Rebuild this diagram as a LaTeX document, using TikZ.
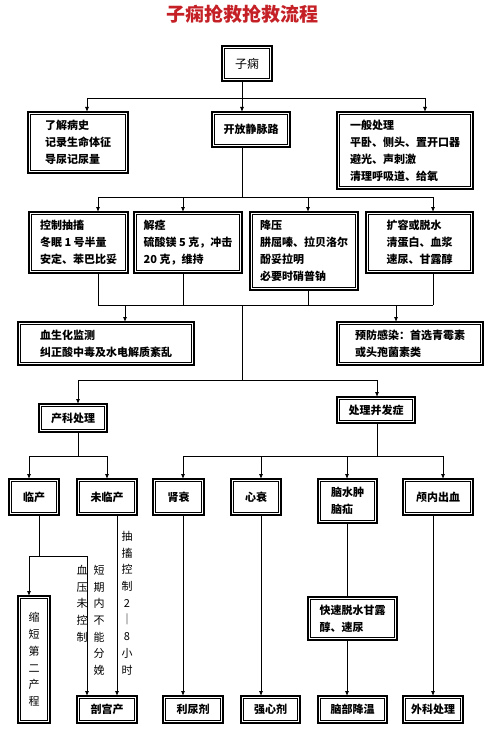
\documentclass[tikz,border=0pt]{standalone}
\usepackage{fontspec}
\setmainfont{Noto Sans CJK SC}
\usetikzlibrary{arrows.meta}
\definecolor{titlered}{RGB}{196,32,38}
\begin{document}
\begin{tikzpicture}[x=1pt,y=-1pt,
  box/.style={draw, line width=1.2pt, anchor=north west,
    inner sep=0pt, outer sep=0pt, align=left, font=\fontsize{11}{17}\selectfont\bfseries,
    path picture={\draw[line width=0.6pt]
      ([shift={(2.6pt,-2.6pt)}]path picture bounding box.north west) rectangle
      ([shift={(-2.6pt,2.6pt)}]path picture bounding box.south east);}},
  thickbox/.style={box, line width=2pt},
  wh/.style 2 args={minimum width=#1, minimum height=#2},
  conn/.style={line width=0.8pt},
  arr/.style={conn, -{Latex[length=5pt,width=4pt]}},
  vtext/.style={anchor=north, align=center, inner sep=0pt, font=\fontsize{11}{16.7}\selectfont}
]
\fill[white] (0,0) rectangle (488,730);
\useasboundingbox (0,0) rectangle (488,730);

% title
\node[font=\fontsize{19}{21}\selectfont\bfseries, text=titlered] (ttl) at (242,14) {子痫抢救抢救流程};

% level 0
\node[box, wh={50}{35}, align=center, font=\fontsize{12}{14}\selectfont] (zi) at (222,46) {子痫};

% level 1
\node[box, wh={100}{61}] (A1) at (28,112) {了解病史\\记录生命体征\\导尿记尿量};
\node[box, wh={78}{35}, align=center] (A2) at (212,112) {开放静脉路};
\node[box, wh={136}{77}] (A3) at (337,112) {一般处理\\平卧、侧头、置开口器\\避光、声刺激\\清理呼吸道、给氧};

% level 2
\node[box, wh={99}{61}] (B1) at (29,212) {控制抽搐\\冬眠 1 号半量\\安定、苯巴比妥};
\node[box, wh={108}{61}] (B2) at (134,212) {解痉\\硫酸镁 5 克，冲击\\20 克，维持};
\node[thickbox, wh={108}{78}] (B3) at (250,212) {降压\\肼屈嗪、拉贝洛尔\\酚妥拉明\\必要时硝普钠};
\node[box, wh={107}{61}] (B4) at (366,212) {扩容或脱水\\清蛋白、血浆\\速尿、甘露醇};

% level 3
\node[box, wh={176}{43}] (C1) at (18,322) {血生化监测\\纠正酸中毒及水电解质紊乱};
\node[box, wh={146}{43}] (C2) at (337,322) {预防感染：首选青霉素\\或头孢菌素类};

% level 4
\node[box, wh={68}{28}, align=center] (D1) at (39,404) {产科处理};
\node[box, wh={78}{26}, align=center] (D2) at (337,397) {处理并发症};

% level 5
\node[box, wh={50}{36}, align=center] (E1) at (9,479) {临产};
\node[box, wh={60}{36}, align=center] (E2) at (77,479) {未临产};
\node[box, wh={51}{36}, align=center] (E3) at (153,479) {肾衰};
\node[box, wh={50}{36}, align=center] (E4) at (231,479) {心衰};
\node[box, wh={59}{44}] (E5) at (318,479) {脑水肿\\脑疝};
\node[box, wh={70}{36}, align=center] (E6) at (403,479) {颅内出血};

% level 6
\node[box, wh={32}{127}, align=center, font=\fontsize{11}{16.7}\selectfont] (F1) at (18,596) {缩\\短\\第\\二\\产\\程};
\node[box, wh={60}{27}, align=center] (F2) at (77,696) {剖宫产};
\node[box, wh={60}{27}, align=center] (F3) at (163,696) {利尿剂};
\node[box, wh={59}{27}, align=center] (F4) at (241,696) {强心剂};
\node[box, wh={89}{43}] (F5) at (308,597) {快速脱水甘露\\醇、速尿};
\node[box, wh={69}{27}, align=center] (F6) at (318,696) {脑部降温};
\node[box, wh={60}{27}, align=center] (F7) at (403,696) {外科处理};

% vertical labels
\node[vtext] (vt1) at (82,565) {血\\压\\未\\控\\制};
\node[vtext] (vt2) at (99,565) {短\\期\\内\\不\\能\\分\\娩};
\node[vtext] (vt3) at (127,531) {抽\\搐\\控\\制\\2\\｜\\8\\小\\时};

% connectors: top
\coordinate (t0) at (242,98);
\coordinate (t0L) at (87,98);
\coordinate (t0R) at (425,98);
\draw[conn] (zi.south -| t0) -- (t0);
\draw[conn] (t0L) -- (t0R);
\draw[arr] (t0L) -- (t0L |- A1.north);
\draw[arr] (t0) -- (t0 |- A2.north);
\draw[arr] (t0R) -- (t0R |- A3.north);

% second fan
\coordinate (t1) at (242,197);
\coordinate (t1a) at (98,197);
\coordinate (t1b) at (183,197);
\coordinate (t1c) at (308,197);
\coordinate (t1d) at (433,197);
\draw[conn] (A2.south -| t1) -- (t1);
\draw[conn] (t1a) -- (t1d);
\draw[arr] (t1a) -- (t1a |- B1.north);
\draw[arr] (t1b) -- (t1b |- B2.north);
\draw[arr] (t1c) -- (t1c |- B3.north);
\draw[arr] (t1d) -- (t1d |- B4.north);

% merge
\coordinate (t2) at (242,305);
\coordinate (t2a) at (98,305);
\coordinate (t2b) at (183,305);
\coordinate (t2c) at (308,305);
\coordinate (t2d) at (433,305);
\draw[conn] (B1.south -| t2a) -- (t2a);
\draw[conn] (B2.south -| t2b) -- (t2b);
\draw[conn] (B3.south -| t2c) -- (t2c);
\draw[conn] (B4.south -| t2d) -- (t2d);
\draw[conn] (t2a) -- (t2d);
\coordinate (c1) at (125,305);
\coordinate (c2) at (396,305);
\draw[arr] (c1) -- (c1 |- C1.north);
\draw[arr] (c2) -- (c2 |- C2.north);

% split obstetric / complications
\coordinate (t3) at (242,380);
\coordinate (t3L) at (78,380);
\coordinate (t3R) at (377,380);
\draw[conn] (t2) -- (t3);
\draw[conn] (t3L) -- (t3R);
\draw[arr] (t3L) -- (t3L |- D1.north);
\draw[arr] (t3R) -- (t3R |- D2.north);

% obstetric branch
\coordinate (t4) at (78,456);
\coordinate (t4L) at (29,456);
\coordinate (t4R) at (107,456);
\draw[conn] (D1.south -| t4) -- (t4);
\draw[conn] (t4L) -- (t4R);
\draw[arr] (t4L) -- (t4L |- E1.north);
\draw[arr] (t4R) -- (t4R |- E2.north);

% complications branch
\coordinate (t5) at (377,456);
\coordinate (t5a) at (183,456);
\coordinate (t5b) at (261,456);
\coordinate (t5c) at (347,456);
\coordinate (t5d) at (443,456);
\draw[conn] (D2.south -| t5) -- (t5);
\draw[conn] (t5a) -- (t5d);
\draw[arr] (t5a) -- (t5a |- E3.north);
\draw[arr] (t5b) -- (t5b |- E4.north);
\draw[arr] (t5c) -- (t5c |- E5.north);
\draw[arr] (t5d) -- (t5d |- E6.north);

% from 临产
\coordinate (t6) at (39,556);
\coordinate (t6L) at (29,556);
\coordinate (t6R) at (87,556);
\draw[conn] (E1.south -| t6) -- (t6);
\draw[conn] (t6L) -- (t6R);
\draw[arr] (t6L) -- (t6L |- F1.north);
\draw[arr] (t6R) -- (t6R |- F2.north);

% from 未临产
\coordinate (v1) at (117,600);
\draw[arr] (E2.south -| v1) -- (v1 |- F2.north);

% other verticals
\coordinate (v2) at (183,600);
\coordinate (v3) at (261,600);
\coordinate (v4) at (347,600);
\coordinate (v5) at (433,600);
\draw[arr] (E3.south -| v2) -- (v2 |- F3.north);
\draw[arr] (E4.south -| v3) -- (v3 |- F4.north);
\draw[conn] (E5.south -| v4) -- (v4 |- F5.north);
\draw[arr] (F5.south -| v4) -- (v4 |- F6.north);
\draw[arr] (E6.south -| v5) -- (v5 |- F7.north);
\end{tikzpicture}
\end{document}
